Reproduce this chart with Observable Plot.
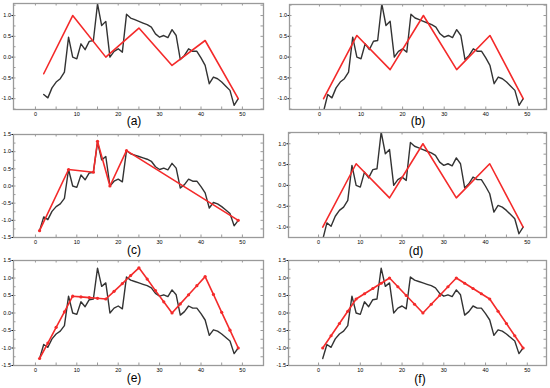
<!DOCTYPE html>
<html><head><meta charset="utf-8">
<script src="https://cdn.jsdelivr.net/npm/d3@7"></script>
<script src="https://cdn.jsdelivr.net/npm/@observablehq/plot@0.6"></script>
<style>
body{margin:0;background:#fff;}
#wrap{position:relative;width:550px;height:388px;overflow:hidden;font-family:"Liberation Sans",Arial,sans-serif;}
.cap{position:absolute;font-size:12px;color:#000;transform:translateX(-50%);line-height:12px;white-space:nowrap;}
</style></head><body><div id="wrap"></div>
<script>
// ---- data ----
const steps = [1,2,3,4,5,6,7,8,9,10,11,12,13,14,15,16,17,18,19,20,21,22,23,24,25,26,27,28,29,30,31,32,33,34,35,36,37,38,39,40,41,42,43,44,45,46,47,48,49];
const signal = [-1.30,-0.90,-0.98,-0.74,-0.60,-0.52,-0.36,0.48,0.00,-0.04,0.32,0.18,0.38,0.40,1.28,0.76,0.86,0.00,0.14,0.20,0.12,1.03,0.94,0.90,0.86,0.82,0.78,0.72,0.56,0.48,0.52,0.47,0.66,0.52,-0.06,0.04,0.20,0.14,0.14,-0.02,-0.20,-0.64,-0.48,-0.52,-0.60,-0.70,-0.80,-1.16,-1.00];

const redA_x = [2,9,17,25,33,41,49];
const redA_y = [-0.40,1.00,0.00,0.70,-0.20,0.40,-1.00];
const redB_x = [1,9,17,25,33,41,49];
const redB_y = [-1.00,0.52,-0.30,1.00,-0.30,0.52,-1.00];
const redC_x = [1,8,14,15,18,22,49];
const redC_y = [-1.30,0.48,0.40,1.30,0.00,1.03,-1.00];
const redD_x = [1,9,17,25,33,41,49];
const redD_y = [-1.00,0.52,-0.30,1.00,-0.30,0.52,-1.00];
const redE_x = [1,3,5,7,9,11,13,15,17,19,21,23,25,27,29,31,33,35,37,39,41,43,45,47,49];
const redE_y = [-1.30,-0.86,-0.41,0.03,0.48,0.46,0.44,0.42,0.40,0.62,0.84,1.07,1.29,0.97,0.64,0.32,0.00,0.26,0.52,0.78,1.04,0.53,0.02,-0.49,-1.00];
const redF_x = [1,3,5,7,9,11,13,15,17,19,21,23,25,27,29,31,33,35,37,39,41,43,45,47,49];
const redF_y = [-1.00,-0.65,-0.30,0.05,0.40,0.55,0.70,0.85,1.00,0.75,0.50,0.25,0.00,0.25,0.50,0.75,1.00,0.85,0.70,0.55,0.40,0.05,-0.30,-0.65,-1.00];

const xTickLabels = [0,10,20,30,40,50];
const xMinorTicks = [0,5,10,15,20,25,30,35,40,45,50];
const yTicksNarrow = [-1.0,-0.5,0.0,0.5,1.0];
const yTicksWide = [-1.5,-1.0,-0.5,0.0,0.5,1.0,1.5];
const yMinorNarrow = [-1.25,-1.0,-0.75,-0.5,-0.25,0,0.25,0.5,0.75,1.0,1.25];
const yMinorWide = [-1.5,-1.25,-1.0,-0.75,-0.5,-0.25,0,0.25,0.5,0.75,1.0,1.25,1.5];
const captions = ["(a)","(b)","(c)","(d)","(e)","(f)"];

// ---- helpers ----
const pts = (xs, ys) => xs.map((x, i) => ({x, y: ys[i]}));
const signalPts = pts(steps, signal);

const FRAME = "#9a9a9a", BLACK = "#333333", RED = "#f42a2a";
const wrap = document.getElementById("wrap");

function panel(cfg) {
  const mL = 18, mR = 4, mT = 4, mB = 14;
  const W = cfg.fx1 - cfg.fx0, H = cfg.fy1 - cfg.fy0;
  const inX = d => d >= cfg.xDomain[0] && d <= cfg.xDomain[1];
  const inY = d => d >= cfg.yDomain[0] && d <= cfg.yDomain[1];
  const xm = xMinorTicks.filter(inX), ym = cfg.yMinor.filter(inY);
  const marks = [
    Plot.ruleX(xm, {x: d => d, insetTop: H - 2.5, stroke: FRAME}),
    Plot.ruleX(xm, {x: d => d, insetBottom: H - 2.5, stroke: FRAME}),
    Plot.ruleY(ym, {y: d => d, insetRight: W - 2.5, stroke: FRAME}),
    Plot.ruleY(ym, {y: d => d, insetLeft: W - 2.5, stroke: FRAME}),
    Plot.line(cfg.black, {x: "x", y: "y", stroke: BLACK, strokeWidth: 1.4, clip: true}),
    Plot.line(cfg.red, {x: "x", y: "y", stroke: RED, strokeWidth: 1.6, clip: true}),
  ];
  if (cfg.dots) marks.push(Plot.dot(cfg.red, {x: "x", y: "y", fill: RED, r: 1.6, clip: true}));
  marks.push(Plot.frame({stroke: FRAME, strokeWidth: 1.3}));
  const svg = Plot.plot({
    width: W + mL + mR, height: H + mT + mB,
    marginLeft: mL, marginRight: mR, marginTop: mT, marginBottom: mB,
    x: {domain: cfg.xDomain, ticks: xTickLabels, tickSize: 0, tickPadding: 3, tickFormat: d => String(d), label: null},
    y: {domain: cfg.yDomain, ticks: cfg.yTicks, tickSize: 1.5, tickPadding: 1, tickFormat: d => d.toFixed(1), label: null},
    style: {fontSize: "5.5px", fontFamily: "Liberation Sans, Arial, sans-serif", color: "#000", background: "transparent", overflow: "visible"},
    marks
  });
  svg.style.position = "absolute";
  svg.style.left = (cfg.fx0 - mL) + "px";
  svg.style.top = (cfg.fy0 - mT) + "px";
  wrap.appendChild(svg);
  const cap = document.createElement("div");
  cap.className = "cap";
  cap.textContent = cfg.caption;
  cap.style.left = cfg.capX + "px";
  cap.style.top = (cfg.capY - 6) + "px";
  wrap.appendChild(cap);
}

const leftX = [-5.3, 55.1], rightX = [-7.2, 54.6];
panel({fx0: 13, fx1: 263, fy0: 3, fy1: 109, xDomain: leftX, yDomain: [-1.26, 1.29], yTicks: yTicksNarrow, yMinor: yMinorNarrow,
  black: signalPts.slice(1), red: pts(redA_x, redA_y), caption: captions[0], capX: 134, capY: 121});
panel({fx0: 289, fx1: 546, fy0: 4, fy1: 109, xDomain: rightX, yDomain: [-1.26, 1.265], yTicks: yTicksNarrow, yMinor: yMinorNarrow,
  black: signalPts, red: pts(redB_x, redB_y), caption: captions[1], capX: 418, capY: 121});
panel({fx0: 13, fx1: 263, fy0: 134, fy1: 237, xDomain: leftX, yDomain: [-1.5, 1.5], yTicks: yTicksWide, yMinor: yMinorWide,
  black: signalPts, red: pts(redC_x, redC_y), dots: true, caption: captions[2], capX: 134, capY: 250});
panel({fx0: 288, fx1: 546, fy0: 132, fy1: 237, xDomain: rightX, yDomain: [-1.25, 1.27], yTicks: yTicksNarrow, yMinor: yMinorNarrow,
  black: signalPts, red: pts(redD_x, redD_y), caption: captions[3], capX: 416, capY: 251});
panel({fx0: 13, fx1: 263, fy0: 260, fy1: 365, xDomain: leftX, yDomain: [-1.5, 1.5], yTicks: yTicksWide, yMinor: yMinorWide,
  black: signalPts, red: pts(redE_x, redE_y), dots: true, caption: captions[4], capX: 134, capY: 378});
panel({fx0: 288, fx1: 546, fy0: 260, fy1: 365, xDomain: rightX, yDomain: [-1.5, 1.5], yTicks: yTicksWide, yMinor: yMinorWide,
  black: signalPts, red: pts(redF_x, redF_y), dots: true, caption: captions[5], capX: 420, capY: 379});
</script></body></html>
